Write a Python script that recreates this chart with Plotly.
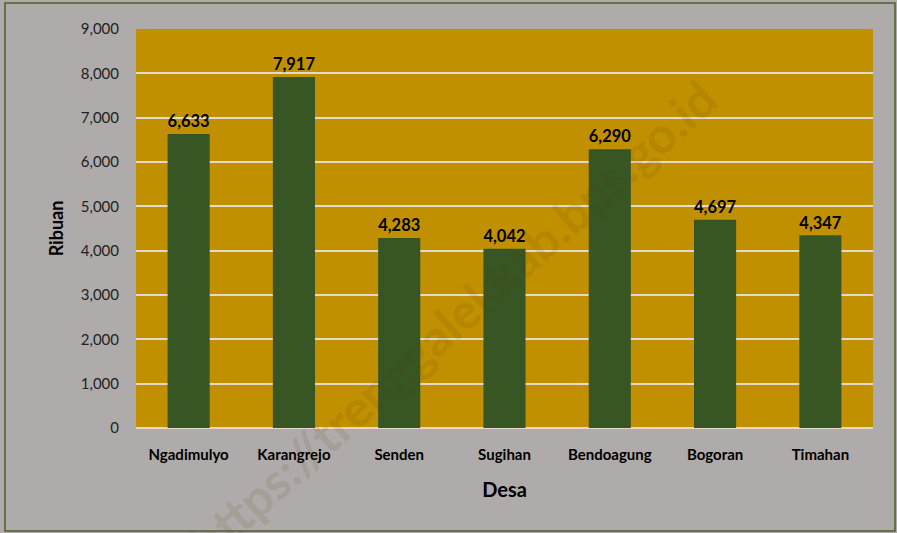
import plotly.graph_objects as go

desa = ["Ngadimulyo", "Karangrejo", "Senden", "Sugihan", "Bendoagung", "Bogoran", "Timahan"]
nilai = [6633, 7917, 4283, 4042, 6290, 4697, 4347]
y_ticks = [0, 1000, 2000, 3000, 4000, 5000, 6000, 7000, 8000, 9000]

font_family = "Lato, 'Open Sans', sans-serif"

fig = go.Figure()
fig.add_trace(go.Bar(
    x=desa, y=nilai,
    marker=dict(color="#375623", line=dict(width=0)),
    text=[f"{v:,}" for v in nilai],
    textposition="outside",
    textfont=dict(family=font_family, size=18, color="black", weight="bold"),
    cliponaxis=False,
    width=0.4,
))

fig.update_layout(
    width=897, height=533,
    paper_bgcolor="#AEABAA",
    plot_bgcolor="#C09000",
    margin=dict(l=136, r=24, t=29, b=105),
    showlegend=False,
    xaxis=dict(
        title=dict(text="Desa", font=dict(family=font_family, size=20, color="black", weight="bold"), standoff=20),
        tickfont=dict(family=font_family, size=15, color="black", weight="bold"),
        ticklabelstandoff=16,
        showgrid=False, showline=False, ticks="",
    ),
    yaxis=dict(
        title=dict(text="Ribuan", font=dict(family=font_family, size=18, color="black", weight="bold"), standoff=12),
        tickvals=y_ticks,
        ticktext=[f"{v:,}" for v in y_ticks],
        tickfont=dict(family=font_family, size=15, color="#222222"),
        ticklabelstandoff=16,
        range=[0, 9000],
        showgrid=True, gridcolor="#E3DACB", gridwidth=1.5,
        zeroline=True, zerolinecolor="#E3DACB", zerolinewidth=1.5,
        ticks="", ticklen=0,
    ),
    shapes=[dict(type="rect", xref="paper", yref="paper",
                 x0=-131/737, x1=1 + 22/737, y0=-103/399, y1=1 + 26/399,
                 line=dict(color="#4F6228", width=1.5), fillcolor="rgba(0,0,0,0)", layer="below")],
    annotations=[dict(
        text="https://trenggalekkab.bps.go.id", xref="paper", yref="paper",
        x=0.43, y=0.27, xanchor="center", yanchor="middle",
        showarrow=False, textangle=-42,
        font=dict(family=font_family, size=50, color="rgba(90,60,0,0.10)", weight="bold"),
    )],
)

fig.write_html("out.html", config={"displayModeBar": False},
               post_script="document.body.style.margin='0';document.body.style.overflow='hidden';")
